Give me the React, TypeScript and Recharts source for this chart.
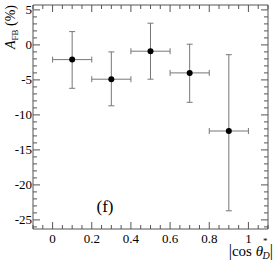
import { ComposedChart, Scatter, XAxis, YAxis, ErrorBar } from 'recharts';

const cosBins = [0.1, 0.3, 0.5, 0.7, 0.9];
const afbValues = [-2.1, -4.9, -0.9, -4.0, -12.3];
const errDown = [4.1, 3.8, 4.0, 4.2, 11.4];
const errUp = [4.0, 3.9, 4.0, 4.1, 10.9];
const binHalfWidth = 0.1;

const xMajor = [0, 0.2, 0.4, 0.6, 0.8, 1];
const yMajor = [5, 0, -5, -10, -15, -20, -25];

const xTicks = Array.from({ length: 25 }, (_, i) => Math.round((-0.1 + i * 0.05) * 100) / 100);
const yTicks = Array.from({ length: 32 }, (_, i) => -26 + i);

const data = cosBins.map((x, i) => ({
  x,
  y: afbValues[i],
  ye: [errDown[i], errUp[i]],
  xe: binHalfWidth,
}));

const FONT = '"Liberation Serif", "DejaVu Serif", serif';
const AXIS = '#555';

const isMajorX = (v: number) => xMajor.some(m => Math.abs(m - v) < 1e-6);
const isMajorY = (v: number) => yMajor.includes(v);

function BottomTick({ x, y, payload }: any) {
  const major = isMajorX(payload.value);
  return (
    <g>
      <line x1={x} y1={y} x2={x} y2={y - (major ? 7 : 4)} stroke={AXIS} />
      {major && (
        <text x={x} y={y + 14} textAnchor="middle" fontSize={13} fontFamily={FONT} fill="#000">
          {payload.value}
        </text>
      )}
    </g>
  );
}

function TopTick({ x, y, payload }: any) {
  const major = isMajorX(payload.value);
  return <line x1={x} y1={y} x2={x} y2={y + (major ? 7 : 4)} stroke={AXIS} />;
}

function LeftTick({ x, y, payload }: any) {
  const major = isMajorY(payload.value);
  return (
    <g>
      <line x1={x} y1={y} x2={x + (major ? 7 : 4)} y2={y} stroke={AXIS} />
      {major && (
        <text x={x - 1} y={y + 4.5} textAnchor="end" fontSize={13} fontFamily={FONT} fill="#000">
          {payload.value}
        </text>
      )}
    </g>
  );
}

function RightTick({ x, y, payload }: any) {
  const major = isMajorY(payload.value);
  return <line x1={x} y1={y} x2={x - (major ? 7 : 4)} y2={y} stroke={AXIS} />;
}

export default function App() {
  return (
    <div style={{ position: 'absolute', left: 0, top: 0, width: 274, height: 261, background: '#fff' }}>
      <ComposedChart width={274} height={261} data={data} margin={{ top: 4, right: 5, bottom: 31, left: 32 }}>
        <XAxis
          type="number"
          dataKey="x"
          domain={[-0.1, 1.1]}
          ticks={xTicks}
          interval={0}
          height={1}
          tickSize={0}
          tickMargin={0}
          tickLine={false}
          stroke={AXIS}
          tick={<BottomTick />}
          allowDataOverflow
        />
        <XAxis
          xAxisId="top"
          orientation="top"
          type="number"
          dataKey="x"
          domain={[-0.1, 1.1]}
          ticks={xTicks}
          interval={0}
          height={1}
          tickSize={0}
          tickMargin={0}
          tickLine={false}
          stroke={AXIS}
          tick={<TopTick />}
          allowDataOverflow
        />
        <YAxis
          type="number"
          domain={[-26.3, 5.7]}
          ticks={yTicks}
          interval={0}
          width={1}
          tickSize={0}
          tickMargin={0}
          tickLine={false}
          stroke={AXIS}
          tick={<LeftTick />}
          allowDataOverflow
        />
        <YAxis
          yAxisId="right"
          orientation="right"
          type="number"
          domain={[-26.3, 5.7]}
          ticks={yTicks}
          interval={0}
          width={1}
          tickSize={0}
          tickMargin={0}
          tickLine={false}
          stroke={AXIS}
          tick={<RightTick />}
          allowDataOverflow
        />
        <Scatter dataKey="y" fill="#000" isAnimationActive={false} shape={(p: any) => <circle cx={p.cx} cy={p.cy} r={3} fill="#000" />}>
          <ErrorBar dataKey="xe" direction="x" width={3} stroke="#777" strokeWidth={1} />
          <ErrorBar dataKey="ye" direction="y" width={3} stroke="#777" strokeWidth={1} />
        </Scatter>
        <text
          transform="translate(15,5) rotate(-90)"
          textAnchor="end"
          fontSize={14}
          fontFamily={FONT}
          fill="#000"
        >
          <tspan fontStyle="italic">A</tspan>
          <tspan fontSize={9} dy={3}>FB</tspan>
          <tspan dy={-3}> (%)</tspan>
        </text>
        <text x={105} y={212} textAnchor="middle" fontSize={17} fontFamily={FONT} fill="#000">
          (f)
        </text>
        <text x={273} y={256} textAnchor="end" fontSize={15} fontFamily={FONT} fill="#000">
          <tspan fontSize={16}>|</tspan>
          <tspan>cos </tspan>
          <tspan fontStyle="italic">θ</tspan>
          <tspan fontSize={9} dy={-12}>*</tspan>
          <tspan fontSize={10} fontStyle="italic" dx={-5} dy={15}>D</tspan>
          <tspan fontSize={16} dy={-3}>|</tspan>
        </text>
      </ComposedChart>
    </div>
  );
}
